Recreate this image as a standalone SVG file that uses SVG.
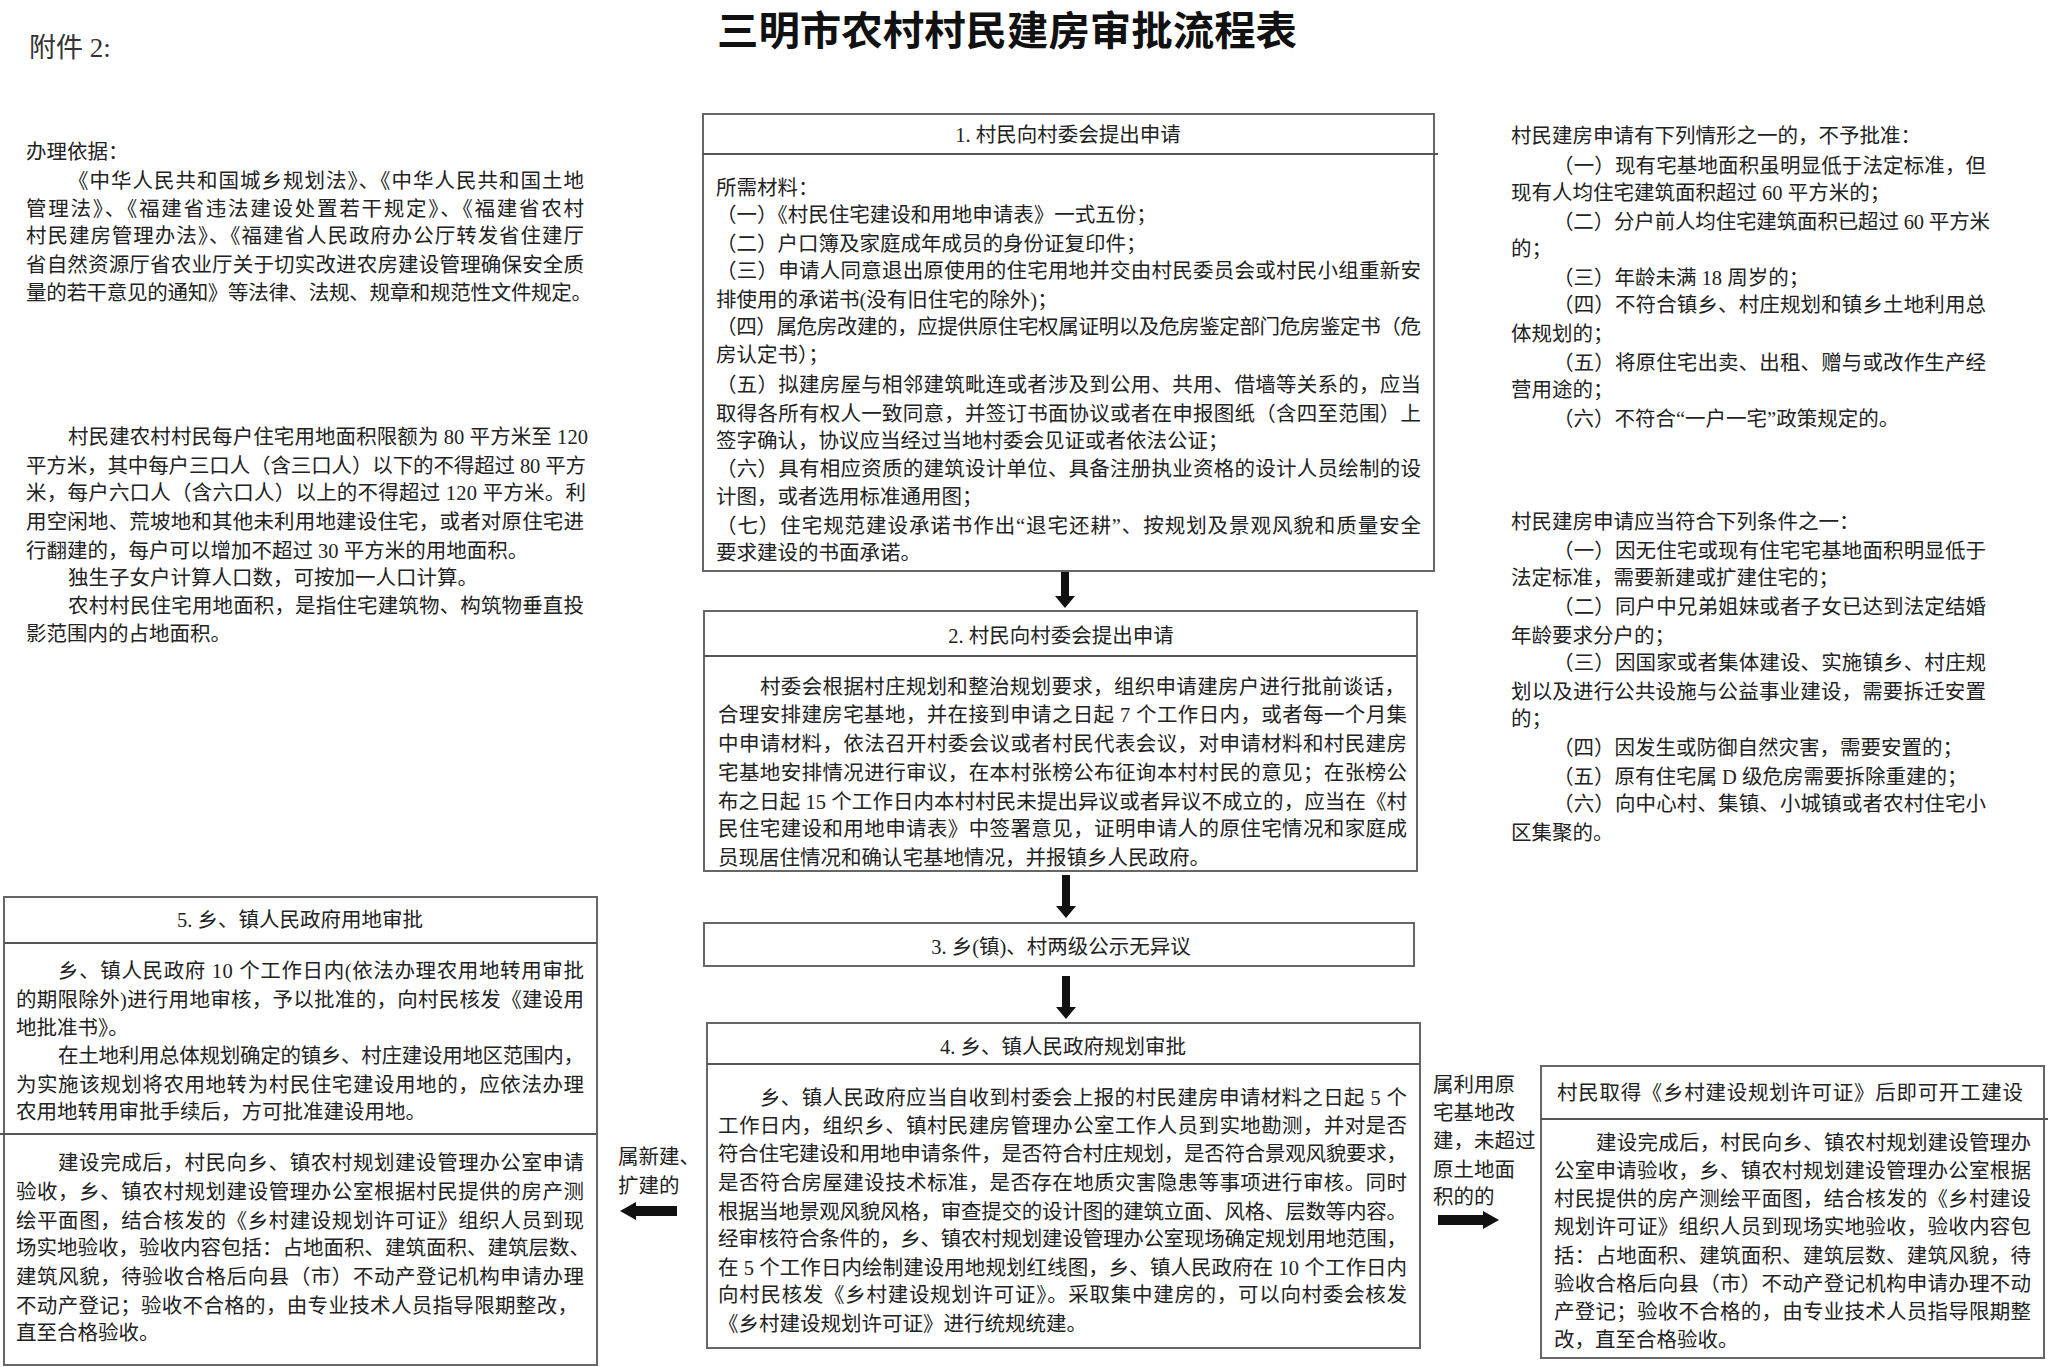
<svg xmlns="http://www.w3.org/2000/svg" width="2048" height="1367" viewBox="0 0 2048 1367">
<style>
.t{font-family:"Liberation Serif","Noto Sans CJK SC",serif;font-size:20.5px;fill:#222}
.h{font-family:"Liberation Serif","Noto Sans CJK SC",serif;font-size:20.5px;fill:#222;text-anchor:middle}
.box{fill:#fff;stroke:#666;stroke-width:2}
.sep{stroke:#555;stroke-width:2}
.arr{fill:#111}
</style>
<rect width="2048" height="1367" fill="#fff"/>
<text x="29" y="57" style="font-family:'Liberation Serif','Noto Sans CJK SC',serif;font-size:27px;fill:#333">附件 2:</text>
<text x="1007" y="45" text-anchor="middle" textLength="580" lengthAdjust="spacingAndGlyphs" style="font-family:'Noto Sans CJK SC',sans-serif;font-size:40px;font-weight:bold;fill:#111">三明市农村村民建房审批流程表</text>

<g id="basis">
<text class="t" x="26" y="159">办理依据：</text>
<text class="t" x="68" y="188" textLength="516">《中华人民共和国城乡规划法》、《中华人民共和国土地</text>
<text class="t" x="26" y="216" textLength="558">管理法》、《福建省违法建设处置若干规定》、《福建省农村</text>
<text class="t" x="26" y="243" textLength="558">村民建房管理办法》、《福建省人民政府办公厅转发省住建厅</text>
<text class="t" x="26" y="272" textLength="558">省自然资源厅省农业厅关于切实改进农房建设管理确保安全质</text>
<text class="t" x="26" y="300" textLength="566">量的若干意见的通知》等法律、法规、规章和规范性文件规定。</text>
</g>

<g id="area-limit">
<text class="t" x="68" y="444" textLength="520">村民建农村村民每户住宅用地面积限额为 80 平方米至 120</text>
<text class="t" x="26" y="473" textLength="560">平方米，其中每户三口人（含三口人）以下的不得超过 80 平方</text>
<text class="t" x="26" y="500" textLength="560">米，每户六口人（含六口人）以上的不得超过 120 平方米。利</text>
<text class="t" x="26" y="529" textLength="558">用空闲地、荒坡地和其他未利用地建设住宅，或者对原住宅进</text>
<text class="t" x="26" y="558">行翻建的，每户可以增加不超过 30 平方米的用地面积。</text>
<text class="t" x="68" y="585">独生子女户计算人口数，可按加一人口计算。</text>
<text class="t" x="68" y="613" textLength="516">农村村民住宅用地面积，是指住宅建筑物、构筑物垂直投</text>
<text class="t" x="26" y="641">影范围内的占地面积。</text>
</g>

<g id="not-approved">
<text class="t" x="1511" y="143">村民建房申请有下列情形之一的，不予批准：</text>
<text class="t" x="1553" y="173" textLength="433">（一）现有宅基地面积虽明显低于法定标准，但</text>
<text class="t" x="1511" y="200">现有人均住宅建筑面积超过 60 平方米的；</text>
<text class="t" x="1553" y="229" textLength="437">（二）分户前人均住宅建筑面积已超过 60 平方米</text>
<text class="t" x="1511" y="256">的；</text>
<text class="t" x="1553" y="285">（三）年龄未满 18 周岁的；</text>
<text class="t" x="1553" y="312" textLength="433">（四）不符合镇乡、村庄规划和镇乡土地利用总</text>
<text class="t" x="1511" y="341">体规划的；</text>
<text class="t" x="1553" y="370" textLength="433">（五）将原住宅出卖、出租、赠与或改作生产经</text>
<text class="t" x="1511" y="397">营用途的；</text>
<text class="t" x="1553" y="426">（六）不符合“一户一宅”政策规定的。</text>
</g>

<g id="conditions">
<text class="t" x="1511" y="529">村民建房申请应当符合下列条件之一：</text>
<text class="t" x="1553" y="558" textLength="433">（一）因无住宅或现有住宅宅基地面积明显低于</text>
<text class="t" x="1511" y="585">法定标准，需要新建或扩建住宅的；</text>
<text class="t" x="1553" y="614" textLength="433">（二）同户中兄弟姐妹或者子女已达到法定结婚</text>
<text class="t" x="1511" y="643">年龄要求分户的；</text>
<text class="t" x="1553" y="670" textLength="433">（三）因国家或者集体建设、实施镇乡、村庄规</text>
<text class="t" x="1511" y="699" textLength="475">划以及进行公共设施与公益事业建设，需要拆迁安置</text>
<text class="t" x="1511" y="726">的；</text>
<text class="t" x="1553" y="755">（四）因发生或防御自然灾害，需要安置的；</text>
<text class="t" x="1553" y="784">（五）原有住宅属 D 级危房需要拆除重建的；</text>
<text class="t" x="1553" y="811" textLength="433">（六）向中心村、集镇、小城镇或者农村住宅小</text>
<text class="t" x="1511" y="840">区集聚的。</text>
</g>

<g id="step1">
<rect class="box" x="703" y="114" width="731" height="457"/>
<line class="sep" x1="703" y1="154" x2="1438" y2="154"/>
<text class="h" x="1068" y="142">1. 村民向村委会提出申请</text>
<text class="t" x="716" y="195">所需材料：</text>
<text class="t" x="716" y="222">（一）《村民住宅建设和用地申请表》一式五份；</text>
<text class="t" x="716" y="251">（二）户口簿及家庭成年成员的身份证复印件；</text>
<text class="t" x="716" y="278" textLength="705">（三）申请人同意退出原使用的住宅用地并交由村民委员会或村民小组重新安</text>
<text class="t" x="716" y="307">排使用的承诺书(没有旧住宅的除外)；</text>
<text class="t" x="716" y="334" textLength="705">（四）属危房改建的，应提供原住宅权属证明以及危房鉴定部门危房鉴定书（危</text>
<text class="t" x="716" y="362">房认定书）；</text>
<text class="t" x="716" y="392" textLength="705">（五）拟建房屋与相邻建筑毗连或者涉及到公用、共用、借墙等关系的，应当</text>
<text class="t" x="716" y="421" textLength="705">取得各所有权人一致同意，并签订书面协议或者在申报图纸（含四至范围）上</text>
<text class="t" x="716" y="448">签字确认，协议应当经过当地村委会见证或者依法公证；</text>
<text class="t" x="716" y="476" textLength="705">（六）具有相应资质的建筑设计单位、具备注册执业资格的设计人员绘制的设</text>
<text class="t" x="716" y="504">计图，或者选用标准通用图；</text>
<text class="t" x="716" y="533" textLength="705">（七）住宅规范建设承诺书作出“退宅还耕”、按规划及景观风貌和质量安全</text>
<text class="t" x="716" y="560">要求建设的书面承诺。</text>
</g>

<g id="step2">
<rect class="box" x="704" y="611" width="713" height="260"/>
<line class="sep" x1="704" y1="656" x2="1417" y2="656"/>
<text class="h" x="1061" y="643">2. 村民向村委会提出申请</text>
<text class="t" x="760" y="694" textLength="645">村委会根据村庄规划和整治规划要求，组织申请建房户进行批前谈话，</text>
<text class="t" x="718" y="722" textLength="689">合理安排建房宅基地，并在接到申请之日起 7 个工作日内，或者每一个月集</text>
<text class="t" x="718" y="751" textLength="689">中申请材料，依法召开村委会议或者村民代表会议，对申请材料和村民建房</text>
<text class="t" x="718" y="780" textLength="689">宅基地安排情况进行审议，在本村张榜公布征询本村村民的意见；在张榜公</text>
<text class="t" x="718" y="809" textLength="689">布之日起 15 个工作日内本村村民未提出异议或者异议不成立的，应当在《村</text>
<text class="t" x="718" y="836" textLength="689">民住宅建设和用地申请表》中签署意见，证明申请人的原住宅情况和家庭成</text>
<text class="t" x="718" y="865">员现居住情况和确认宅基地情况，并报镇乡人民政府。</text>
</g>

<g id="step3">
<rect class="box" x="704" y="923" width="710" height="43"/>
<text class="h" x="1061" y="954">3. 乡(镇)、村两级公示无异议</text>
</g>

<g id="step4">
<rect class="box" x="707" y="1023" width="713" height="325"/>
<line class="sep" x1="707" y1="1064" x2="1420" y2="1064"/>
<text class="h" x="1063" y="1054">4. 乡、镇人民政府规划审批</text>
<text class="t" x="760" y="1105" textLength="647">乡、镇人民政府应当自收到村委会上报的村民建房申请材料之日起 5 个</text>
<text class="t" x="718" y="1133" textLength="689">工作日内，组织乡、镇村民建房管理办公室工作人员到实地勘测，并对是否</text>
<text class="t" x="718" y="1161" textLength="689">符合住宅建设和用地申请条件，是否符合村庄规划，是否符合景观风貌要求，</text>
<text class="t" x="718" y="1190" textLength="689">是否符合房屋建设技术标准，是否存在地质灾害隐患等事项进行审核。同时</text>
<text class="t" x="718" y="1219" textLength="689">根据当地景观风貌风格，审查提交的设计图的建筑立面、风格、层数等内容。</text>
<text class="t" x="718" y="1246" textLength="689">经审核符合条件的，乡、镇农村规划建设管理办公室现场确定规划用地范围，</text>
<text class="t" x="718" y="1275" textLength="689">在 5 个工作日内绘制建设用地规划红线图，乡、镇人民政府在 10 个工作日内</text>
<text class="t" x="718" y="1302" textLength="689">向村民核发《乡村建设规划许可证》。采取集中建房的，可以向村委会核发</text>
<text class="t" x="718" y="1331">《乡村建设规划许可证》进行统规统建。</text>
</g>

<g id="step5">
<rect class="box" x="4" y="897" width="593" height="468"/>
<line class="sep" x1="4" y1="943" x2="597" y2="943"/>
<line class="sep" x1="0" y1="1134" x2="597" y2="1134"/>
<text class="h" x="300" y="927">5. 乡、镇人民政府用地审批</text>
<text class="t" x="58" y="978" textLength="526">乡、镇人民政府 10 个工作日内(依法办理农用地转用审批</text>
<text class="t" x="16" y="1007" textLength="568">的期限除外)进行用地审核，予以批准的，向村民核发《建设用</text>
<text class="t" x="16" y="1035">地批准书》。</text>
<text class="t" x="58" y="1063" textLength="526">在土地利用总体规划确定的镇乡、村庄建设用地区范围内，</text>
<text class="t" x="16" y="1092" textLength="568">为实施该规划将农用地转为村民住宅建设用地的，应依法办理</text>
<text class="t" x="16" y="1119">农用地转用审批手续后，方可批准建设用地。</text>
<text class="t" x="58" y="1170" textLength="526">建设完成后，村民向乡、镇农村规划建设管理办公室申请</text>
<text class="t" x="16" y="1199" textLength="568">验收，乡、镇农村规划建设管理办公室根据村民提供的房产测</text>
<text class="t" x="16" y="1228" textLength="568">绘平面图，结合核发的《乡村建设规划许可证》组织人员到现</text>
<text class="t" x="16" y="1255" textLength="574">场实地验收，验收内容包括：占地面积、建筑面积、建筑层数、</text>
<text class="t" x="16" y="1284" textLength="568">建筑风貌，待验收合格后向县（市）不动产登记机构申请办理</text>
<text class="t" x="16" y="1313" textLength="562">不动产登记；验收不合格的，由专业技术人员指导限期整改，</text>
<text class="t" x="16" y="1340">直至合格验收。</text>
</g>

<g id="start-work">
<rect class="box" x="1541" y="1066" width="503" height="292"/>
<line class="sep" x1="1541" y1="1119" x2="2048" y2="1119"/>
<text class="h" x="1790" y="1100" textLength="466">村民取得《乡村建设规划许可证》后即可开工建设</text>
<text class="t" x="1596" y="1150" textLength="435">建设完成后，村民向乡、镇农村规划建设管理办</text>
<text class="t" x="1554" y="1178" textLength="477">公室申请验收，乡、镇农村规划建设管理办公室根据</text>
<text class="t" x="1554" y="1206" textLength="477">村民提供的房产测绘平面图，结合核发的《乡村建设</text>
<text class="t" x="1554" y="1234" textLength="477">规划许可证》组织人员到现场实地验收，验收内容包</text>
<text class="t" x="1554" y="1263" textLength="477">括：占地面积、建筑面积、建筑层数、建筑风貌，待</text>
<text class="t" x="1554" y="1291" textLength="477">验收合格后向县（市）不动产登记机构申请办理不动</text>
<text class="t" x="1554" y="1319" textLength="477">产登记；验收不合格的，由专业技术人员指导限期整</text>
<text class="t" x="1554" y="1347">改，直至合格验收。</text>
</g>

<g id="connectors">
<polygon class="arr" points="1061,572 1069,572 1069,596 1075,596 1065,608 1055,596 1061,596"/>
<polygon class="arr" points="1062,875 1070,875 1070,906 1076,906 1066,918 1056,906 1062,906"/>
<polygon class="arr" points="1062,976 1070,976 1070,1007 1076,1007 1066,1019 1056,1007 1062,1007"/>
<polygon class="arr" points="620,1211 636,1202 636,1206 677,1206 677,1216 636,1216 636,1220"/>
<polygon class="arr" points="1438,1215 1483,1215 1483,1211 1499,1220 1483,1229 1483,1225 1438,1225"/>
<text class="t" x="618" y="1164">属新建、</text>
<text class="t" x="618" y="1193">扩建的</text>
<text class="t" x="1433" y="1092">属利用原</text>
<text class="t" x="1433" y="1120">宅基地改</text>
<text class="t" x="1433" y="1148">建，未超过</text>
<text class="t" x="1433" y="1177">原土地面</text>
<text class="t" x="1433" y="1204">积的的</text>
</g>
</svg>
